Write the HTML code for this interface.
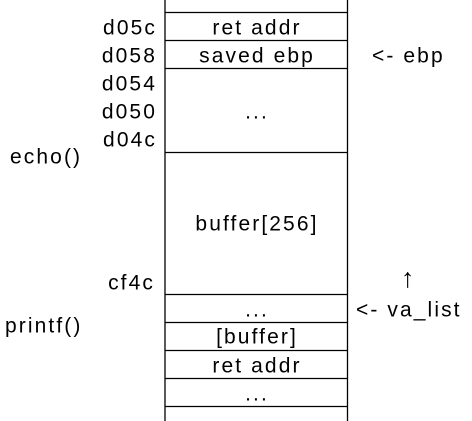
<!DOCTYPE html>
<html><head><style>
html,body{margin:0;padding:0;background:#fff;}
svg{display:block}
text{font-family:"Liberation Sans",sans-serif;font-size:21px;letter-spacing:2.1px;fill:#000;dominant-baseline:central;}
</style></head><body>
<svg width="472" height="421" viewBox="0 0 472 421" xmlns="http://www.w3.org/2000/svg">
<g stroke="#000" stroke-width="1.3" fill="none">
<line x1="165" y1="0" x2="165" y2="421"/>
<line x1="347.5" y1="0" x2="347.5" y2="421"/>
<line x1="165" y1="12.5" x2="347.5" y2="12.5"/>
<line x1="165" y1="40.5" x2="347.5" y2="40.5"/>
<line x1="165" y1="68.5" x2="347.5" y2="68.5"/>
<line x1="165" y1="152.5" x2="347.5" y2="152.5"/>
<line x1="165" y1="294.5" x2="347.5" y2="294.5"/>
<line x1="165" y1="322.5" x2="347.5" y2="322.5"/>
<line x1="165" y1="350.5" x2="347.5" y2="350.5"/>
<line x1="165" y1="378.5" x2="347.5" y2="378.5"/>
<line x1="165" y1="406.5" x2="347.5" y2="406.5"/>
</g>
<g text-anchor="middle">
<text x="257" y="28">ret addr</text>
<text x="257" y="56">saved ebp</text>
<text x="257" y="112">...</text>
<text x="257" y="224">buffer[256]</text>
<text x="257" y="310">...</text>
<text x="257" y="337">[buffer]</text>
<text x="257" y="366">ret addr</text>
<text x="257" y="394">...</text>
</g>
<g text-anchor="end">
<text x="157" y="28">d05c</text>
<text x="157" y="56">d058</text>
<text x="157" y="84">d054</text>
<text x="157" y="112">d050</text>
<text x="157" y="140">d04c</text>
<text x="155" y="283">cf4c</text>
</g>
<text x="10" y="157">echo()</text>
<text x="5" y="326">printf()</text>
<text x="372" y="56">&lt;- ebp</text>
<text x="401" y="278" style="font-size:27px">↑</text>
<text x="356" y="310">&lt;- va_list</text>
</svg>
</body></html>
